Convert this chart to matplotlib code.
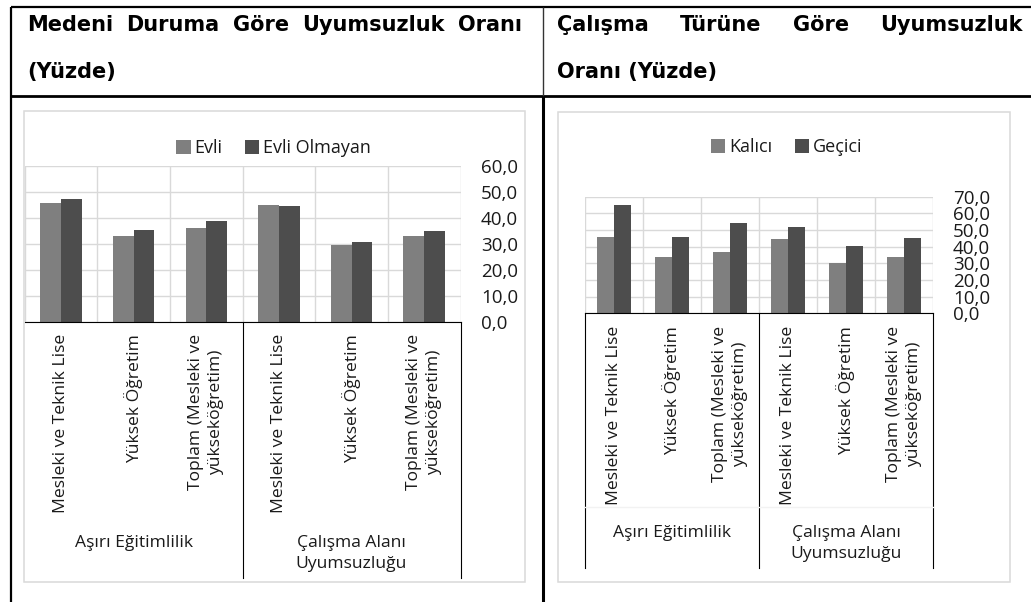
import matplotlib
matplotlib.use("Agg")
import matplotlib.pyplot as plt
from matplotlib import transforms
from matplotlib.lines import Line2D
from matplotlib.patches import Rectangle

# ---- data -------------------------------------------------------------
categories = ["Mesleki ve Teknik Lise", "Yüksek Öğretim",
              "Toplam (Mesleki ve\nyükseköğretim)"] * 2
groups = ["Aşırı Eğitimlilik", "Çalışma Alanı\nUyumsuzluğu"]

marital_names = ["Evli", "Evli Olmayan"]
evli = [45.9, 33.1, 36.2, 44.9, 29.7, 33.2]
evli_olmayan = [47.4, 35.3, 39.0, 44.6, 30.9, 35.0]

contract_names = ["Kalıcı", "Geçici"]
kalici = [46.0, 34.0, 37.0, 44.8, 30.2, 34.0]
gecici = [64.8, 46.0, 54.4, 51.8, 40.4, 45.4]

left_ticks = [0, 10, 20, 30, 40, 50, 60]
right_ticks = [0, 10, 20, 30, 40, 50, 60, 70]

left_title = ["Medeni", "Duruma", "Göre", "Uyumsuzluk", "Oranı"]
left_title2 = "(Yüzde)"
right_title = ["Çalışma", "Türüne", "Göre", "Uyumsuzluk"]
right_title2 = "Oranı (Yüzde)"

# ---- layout helpers (pixel coordinates, origin top-left) --------------
W, H = 1031, 602
fig = plt.figure(figsize=(W / 100, H / 100), dpi=100)
fig.patch.set_facecolor("white")


def fx(x):
    return x / W


def fy(y):
    return 1 - y / H


def px_axes(x0, x1, ytop, ybot):
    return fig.add_axes([fx(x0), fy(ybot), (x1 - x0) / W, (ybot - ytop) / H])


CHART_FONT = "Open Sans"
LIGHT = "#7f7f7f"
DARK = "#4d4d4d"
GRID = "#d9d9d9"
TEXT = "#1a1a1a"


def fmt(v):
    return f"{v:.1f}".replace(".", ",")


def draw_chart(ax, s1, s2, names, ymax, ticks, tick_pad, base_y, label_top,
               group_top, sep_bottom, legend_xy, left_sep=True):
    n = len(s1)
    xs = [i + 0.5 for i in range(n)]
    w = 0.285
    ax.bar([x - w / 2 for x in xs], s1, w, color=LIGHT, label=names[0], zorder=2)
    ax.bar([x + w / 2 for x in xs], s2, w, color=DARK, label=names[1], zorder=2)
    ax.set_xlim(0, n)
    ax.set_ylim(0, ymax)
    ax.set_yticks(ticks)
    ax.set_yticklabels([fmt(t) for t in ticks])
    ax.yaxis.tick_right()
    ax.tick_params(axis="y", length=0, pad=tick_pad, labelsize=13.5,
                   labelcolor=TEXT)
    ax.set_xticks(range(0, n + 1))
    ax.tick_params(axis="x", length=0, labelbottom=False)
    ax.grid(True, color=GRID, lw=1.0, zorder=0)
    ax.set_axisbelow(True)
    for side in ("top", "left", "right"):
        ax.spines[side].set_visible(False)
    ax.spines["bottom"].set_color("#000000")
    ax.spines["bottom"].set_linewidth(0.8)
    for lab in ax.get_yticklabels():
        lab.set_fontfamily(CHART_FONT)

    blend = transforms.blended_transform_factory(ax.transData, fig.transFigure)
    for x, lab in zip(xs, categories):
        ax.text(x, fy(label_top), lab, rotation=90, ha="center", va="top",
                multialignment="center", transform=blend, fontsize=12.6,
                family=CHART_FONT, color=TEXT, linespacing=1.3)
    for gi, g in enumerate(groups):
        ax.text(gi * 3 + 1.5, fy(group_top), g, ha="center", va="top",
                multialignment="center", transform=blend, fontsize=12.6,
                family=CHART_FONT, color=TEXT, linespacing=1.45)
    sep_x = [0, 3, 6] if left_sep else [3, 6]
    for sx in sep_x:
        ax.add_line(Line2D([sx, sx], [fy(base_y), fy(sep_bottom)],
                           color="#000000", lw=0.8, clip_on=False,
                           transform=blend))
    leg = ax.legend(loc="center", bbox_to_anchor=(fx(legend_xy[0]), fy(legend_xy[1])),
                    bbox_transform=fig.transFigure, ncol=2, frameon=False,
                    prop={"family": CHART_FONT, "size": 13},
                    handlelength=0.8, handleheight=0.8, handletextpad=0.2,
                    columnspacing=1.25, borderpad=0, borderaxespad=0)
    for t in leg.get_texts():
        t.set_color(TEXT)


# ---- chart frames -----------------------------------------------------
for (x0, y0, x1, y1) in [(24, 110.7, 525, 581.7), (557.7, 111.7, 1010, 582.3)]:
    fig.patches.append(Rectangle((fx(x0), fy(y1)), (x1 - x0) / W, (y1 - y0) / H,
                                 transform=fig.transFigure, fill=False,
                                 edgecolor=GRID, lw=1.1))

# ---- charts -----------------------------------------------------------
ax1 = px_axes(24.6, 460.5, 166.3, 322.0)
draw_chart(ax1, evli, evli_olmayan, marital_names, 60, left_ticks, 14.8,
           base_y=322.0, label_top=334, group_top=535, sep_bottom=578,
           legend_xy=(273.5, 148), left_sep=False)

ax2 = px_axes(585, 933, 196.7, 313.3)
draw_chart(ax2, kalici, gecici, contract_names, 70, right_ticks, 14.4,
           base_y=313.3, label_top=326, group_top=525, sep_bottom=568,
           legend_xy=(786.5, 147), left_sep=True)

# faint divider between the two label levels of the right chart
fig.add_artist(Line2D([fx(585), fx(933)], [fy(507), fy(507)], color="#f2f2f2",
                      lw=1.0, transform=fig.transFigure))

# ---- table rules ------------------------------------------------------
rules = [
    ((11, 6.7), (1031, 6.7), 1.6, "#000000"),
    ((11, 95.5), (1031, 95.5), 2.0, "#000000"),
    ((11, 6.7), (11, 602), 1.6, "#000000"),
    ((542.7, 6.7), (542.7, 95.5), 1.0, "#333333"),
    ((542.7, 95.5), (542.7, 602), 2.2, "#000000"),
]
for (xa, ya), (xb, yb), lw, c in rules:
    fig.add_artist(Line2D([fx(xa), fx(xb)], [fy(ya), fy(yb)], color=c, lw=lw,
                          transform=fig.transFigure, solid_capstyle="butt"))

# ---- header text ------------------------------------------------------
HEAD = dict(family="DejaVu Sans", weight="bold", fontsize=15,
            color="#000000", va="baseline", ha="left")
renderer = fig.canvas.get_renderer()


def justified(words, x0, x1, y):
    texts = [fig.text(0, fy(y), wd, **HEAD) for wd in words]
    widths = [t.get_window_extent(renderer).width for t in texts]
    gap = (x1 - x0 - sum(widths)) / (len(words) - 1)
    x = x0
    for t, wd in zip(texts, widths):
        t.set_x(fx(x))
        x += wd + gap


justified(left_title, 27, 522, 31)
fig.text(fx(27), fy(78), left_title2, **HEAD)
justified(right_title, 557, 1023, 31)
fig.text(fx(557), fy(78), right_title2, **HEAD)

fig.savefig("out.png", dpi=100)
